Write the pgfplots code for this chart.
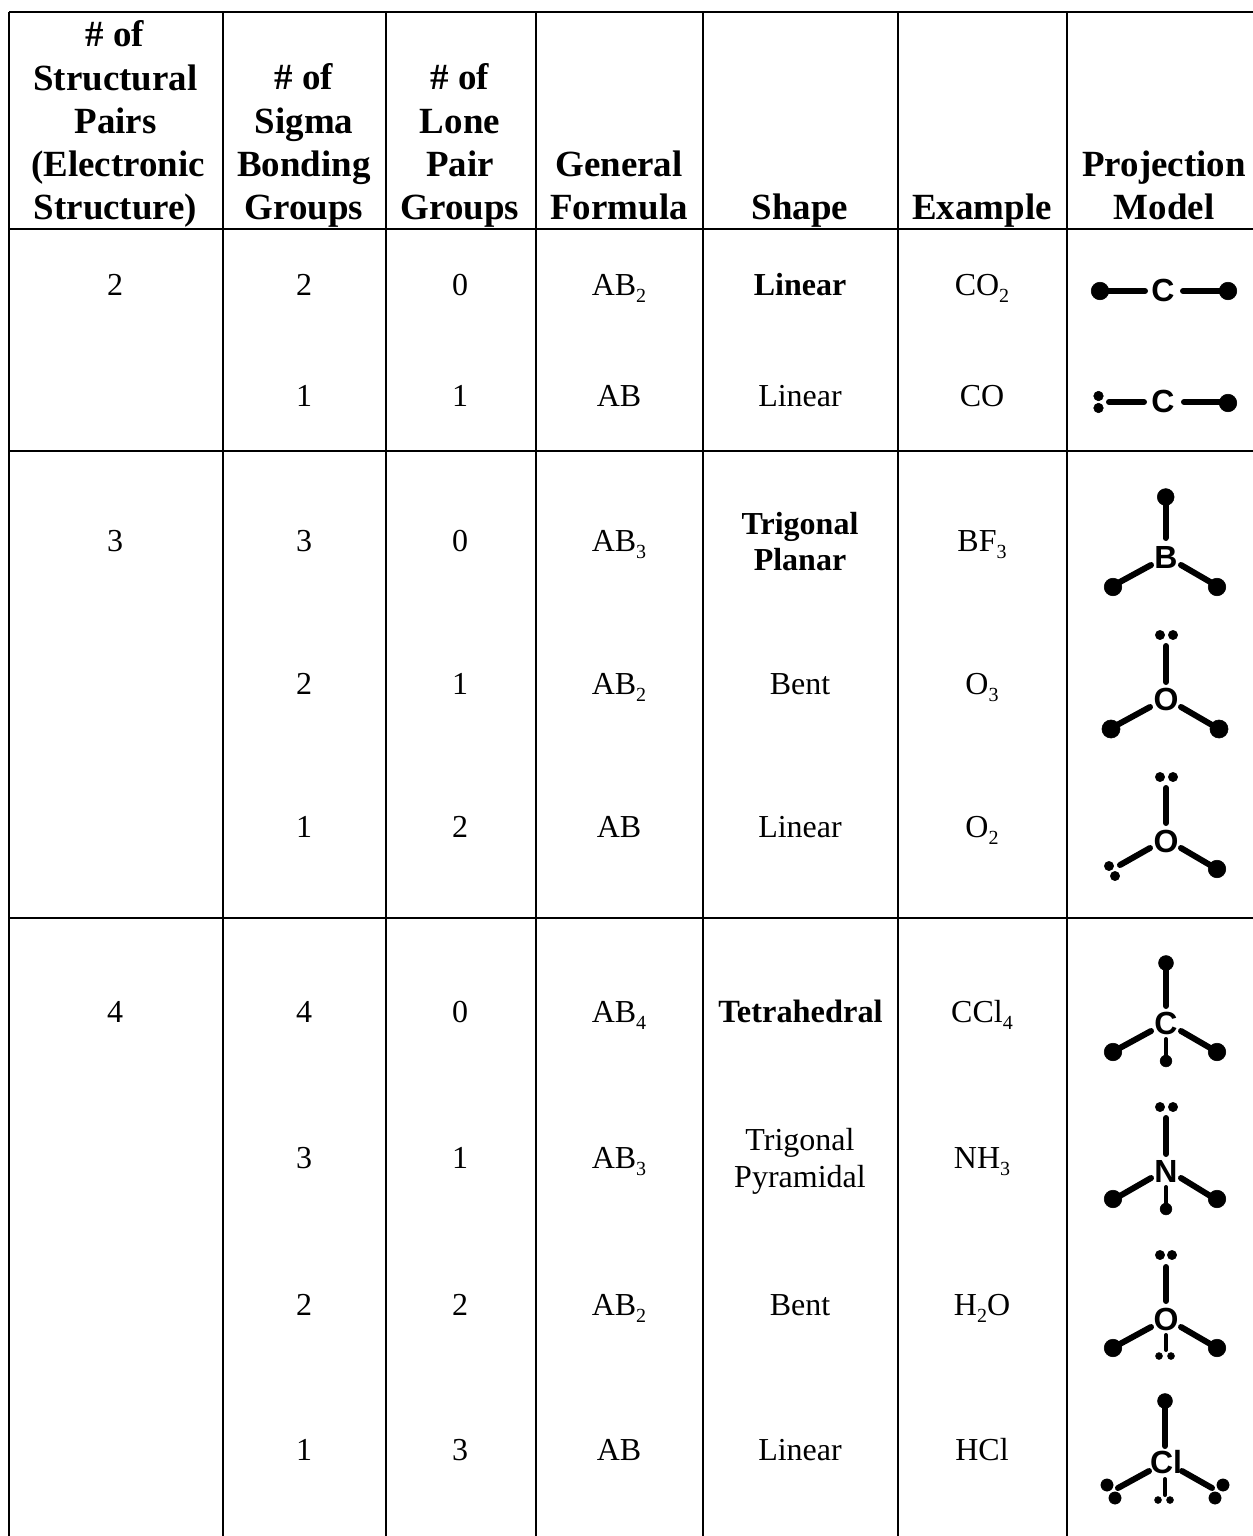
\documentclass[border=0pt]{standalone}
\usepackage{pgfplots}
\pgfplotsset{compat=1.18}
\usepackage{fontspec}
\setmainfont{Liberation Serif}
\newfontfamily\atomfont{Liberation Sans}
\newcommand\sbs[1]{\raisebox{-0.22em}{\fontsize{15}{15}\selectfont #1}}
\newcommand\Hd[3]{\node[anchor=base,inner sep=0pt,yshift=-0.75pt,font=\fontsize{27.7}{27.7}\selectfont\bfseries] at (axis cs:#1,#2) {#3};}
\newcommand\Tx[3]{\node[anchor=base,inner sep=0pt,yshift=0.6pt,font=\fontsize{24}{24}\selectfont] at (axis cs:#1,#2) {#3};}
\newcommand\At[3]{\node[anchor=center,inner sep=0pt,font=\fontsize{24}{24}\selectfont\atomfont\bfseries] at (axis cs:#1,#2) {#3};}
\newcommand\Gr[4]{\addplot[black,line width=2.1pt,no marks,forget plot] coordinates {(#1,#2)(#3,#4)};}
\newcommand\Bd[4]{\addplot[black,line width=4.5pt,line cap=round,no marks,forget plot] coordinates {(#1,#2)(#3,#4)};}
\newcommand\Bt[4]{\addplot[black,line width=3pt,line cap=round,no marks,forget plot] coordinates {(#1,#2)(#3,#4)};}
\newcommand\Dt[2]{\addplot[only marks,mark=*,black,mark options={fill=black,draw=none},mark size=#1,forget plot] coordinates {#2};}
\begin{document}
\begin{tikzpicture}
\begin{axis}[name=a,scale only axis,width=939.75pt,height=1152pt,xmin=0,xmax=1253,ymin=0,ymax=1536,y dir=reverse,hide axis,clip=false]
% grid
\Gr{9}{12}{1253}{12}
\Gr{9}{229}{1253}{229}
\Gr{9}{451}{1253}{451}
\Gr{9}{918}{1253}{918}
\Gr{9}{12}{9}{1536}
\Gr{223}{12}{223}{1536}
\Gr{386}{12}{386}{1536}
\Gr{536}{12}{536}{1536}
\Gr{703}{12}{703}{1536}
\Gr{898}{12}{898}{1536}
\Gr{1067}{12}{1067}{1536}
% header
\Hd{115}{45}{\# of}\Hd{115.5}{89}{Structural}\Hd{115.5}{132}{Pairs}\Hd{118}{175}{(Electronic}\Hd{115.5}{218}{Structure)}
\Hd{304}{88}{\# of}\Hd{304}{132}{Sigma}\Hd{304}{175}{Bonding}\Hd{304}{218}{Groups}
\Hd{460}{88}{\# of}\Hd{460}{132}{Lone}\Hd{460}{175}{Pair}\Hd{460}{218}{Groups}
\Hd{619}{175}{General}\Hd{619}{218}{Formula}
\Hd{800}{218}{Shape}
\Hd{982}{218}{Example}
\Hd{1164}{175}{Projection}\Hd{1164}{218}{Model}
% body
\Tx{115}{296}{2}\Tx{115}{552}{3}\Tx{115}{1023}{4}
\Tx{304}{296}{2}\Tx{304}{407}{1}\Tx{304}{552}{3}\Tx{304}{695}{2}\Tx{304}{838}{1}\Tx{304}{1023}{4}\Tx{304}{1169}{3}\Tx{304}{1316}{2}\Tx{304}{1461}{1}
\Tx{460}{296}{0}\Tx{460}{407}{1}\Tx{460}{552}{0}\Tx{460}{695}{1}\Tx{460}{838}{2}\Tx{460}{1023}{0}\Tx{460}{1169}{1}\Tx{460}{1316}{2}\Tx{460}{1461}{3}
\Tx{619}{296}{AB\sbs{2}}\Tx{619}{407}{AB}\Tx{619}{552}{AB\sbs{3}}\Tx{619}{695}{AB\sbs{2}}\Tx{619}{838}{AB}\Tx{619}{1023}{AB\sbs{4}}\Tx{619}{1169}{AB\sbs{3}}\Tx{619}{1316}{AB\sbs{2}}\Tx{619}{1461}{AB}
\Tx{800}{296}{\textbf{Linear}}\Tx{800}{407}{Linear}
\Tx{800}{535}{\textbf{Trigonal}}\Tx{800}{571}{\textbf{Planar}}
\Tx{800}{695}{Bent}\Tx{800}{838}{Linear}\Tx{800.5}{1023}{\textbf{\fontsize{24.3}{24.3}\selectfont Tetrahedral}}
\Tx{800}{1151}{Trigonal}\Tx{800}{1188}{Pyramidal}
\Tx{800}{1316}{Bent}\Tx{800}{1461}{Linear}
\Tx{982}{296}{CO\sbs{2}}\Tx{982}{407}{CO}\Tx{982}{552}{BF\sbs{3}}\Tx{982}{695}{O\sbs{3}}\Tx{982}{838}{O\sbs{2}}\Tx{982}{1023}{CCl\sbs{4}}\Tx{982}{1169}{NH\sbs{3}}\Tx{982}{1316}{H\sbs{2}O}\Tx{982}{1461}{HCl}
% CO2
\Bd{1108}{291}{1145}{291}\Bd{1183}{291}{1222}{291}
\Dt{6.6pt}{(1100,291)(1228,291)}
\At{1163}{290}{C}
% CO
\Bd{1109}{402}{1144}{402}\Bd{1184}{402}{1222}{402}
\Dt{3.6pt}{(1098.5,396)(1098.5,408)}
\Dt{6.6pt}{(1228,403)}
\At{1163}{401}{C}
% BF3
\Bd{1165.5}{505}{1165.5}{538}\Bd{1151}{565}{1118}{583}\Bd{1181}{565}{1212}{583}
\Dt{6.3pt}{(1165.7,497)}
\Dt{6.6pt}{(1113,587)(1217,587)}
\At{1166}{557}{B}
% O3
\Bd{1166}{646}{1166}{682}\Bd{1150}{707}{1117}{725}\Bd{1181}{707}{1212}{725}
\Dt{3.5pt}{(1160,635)(1173,635)}
\Dt{6.8pt}{(1111,729)(1219,729)}
\At{1166}{699}{O}
% O2
\Bd{1166}{788}{1166}{823}\Bd{1150}{848}{1120}{865}\Bd{1181}{848}{1210}{865}
\Dt{3.5pt}{(1160,777)(1173,777)(1109,866)(1115,876)}
\Dt{6.6pt}{(1217,869)}
\At{1166}{841}{O}
% CCl4
\Bd{1166}{970}{1166}{1006}\Bd{1151}{1031}{1118}{1049}\Bd{1181}{1031}{1212}{1049}
\Bt{1166}{1039}{1166}{1057}
\Dt{5.6pt}{(1166,963)}
\Dt{6.6pt}{(1113,1052)(1217,1052)}
\Dt{4.4pt}{(1166,1061)}
\At{1166}{1023}{C}
% NH3
\Bd{1166}{1118}{1166}{1154}\Bd{1151}{1178}{1118}{1197}\Bd{1181}{1178}{1212}{1197}
\Bt{1166}{1187}{1166}{1205}
\Dt{3.5pt}{(1160,1107)(1173,1107)}
\Dt{6.6pt}{(1113,1199)(1217,1199)}
\Dt{4.4pt}{(1166,1209)}
\At{1166}{1171}{N}
% H2O
\Bd{1166}{1267}{1166}{1301}\Bd{1151}{1327}{1118}{1345}\Bd{1181}{1327}{1212}{1345}
\Bt{1166}{1335}{1166}{1350}
\Dt{3.5pt}{(1160,1255)(1172,1255)}
\Dt{6.6pt}{(1113,1348)(1217,1348)}
\Dt{2.6pt}{(1159,1356)(1171,1356)}
\At{1166}{1319}{O}
% HCl
\Bd{1165}{1408}{1165}{1446}\Bd{1149}{1471}{1118}{1488}\Bd{1182}{1471}{1212}{1488}
\Bt{1165}{1479}{1165}{1495}
\Dt{5.6pt}{(1165,1401)}
\Dt{4.6pt}{(1107,1485)(1115,1498)(1223,1485)(1215,1498)}
\Dt{2.6pt}{(1158,1500)(1170,1500)}
\At{1166}{1462}{Cl}
\end{axis}
\pgfresetboundingbox
\path (a.south west) (a.north east);
\end{tikzpicture}
\end{document}
